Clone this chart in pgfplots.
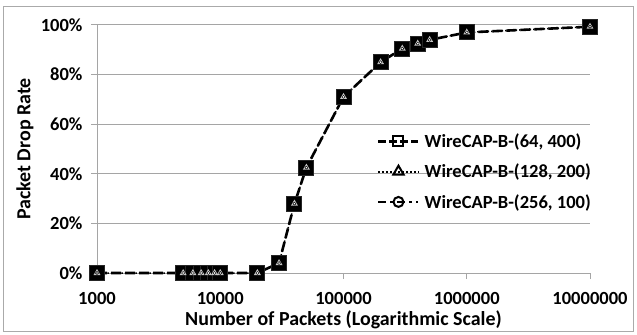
\documentclass[border=0pt]{standalone}
\usepackage{pgfplots}
\usepackage{pgfplotstable}
\pgfplotsset{compat=1.18}
\usepackage{fontspec}
\setmainfont{Carlito}
\definecolor{gridgray}{RGB}{165,165,165}
\definecolor{framegray}{RGB}{170,170,170}

\pgfplotstableread{
x y
1000 0
5000 0
6000 0
7000 0
8000 0
9000 0
10000 0
20000 0
30000 4
40000 28
50000 42.5
100000 71
200000 85
300000 90.5
400000 92.5
500000 94
1000000 97
10000000 99.3
}\datatable

\begin{document}
\begin{tikzpicture}
\begin{axis}[
  scale only axis, width=493bp, height=248bp,
  xmode=log, log basis x=10,
  xmin=1000, xmax=10000000, ymin=0, ymax=100,
  xtick={1000,10000,100000,1000000,10000000},
  xticklabels={1000,10000,100000,1000000,10000000},
  ytick={0,20,40,60,80,100},
  yticklabels={0\%,20\%,40\%,60\%,80\%,100\%},
  xminorticks=false, yminorticks=false,
  axis x line*=bottom, axis y line*=left,
  axis line style={gridgray, line width=1bp, -},
  ymajorgrids, major grid style={gridgray, line width=1bp},
  tick style={gridgray, line width=1bp},
  tick align=outside, major tick length=6bp,
  font=\fontsize{18.6}{22}\selectfont\bfseries,
  xticklabel style={yshift=-10bp},
  yticklabel style={xshift=-5bp},
  xlabel={Number of Packets (Logarithmic Scale)},
  ylabel={Packet Drop Rate},
  xlabel style={at={(axis description cs:0.5,-0.19)}, anchor=center, font=\fontsize{20}{24}\selectfont\bfseries},
  ylabel style={at={(axis description cs:-0.146,0.5)}, anchor=center, font=\fontsize{20}{24}\selectfont\bfseries},
  clip=false,
  legend style={at={(rel axis cs:0.568,0.57)}, anchor=north west, draw=none, fill=none,
    font=\fontsize{18.6}{22}\selectfont\bfseries, row sep=11bp, inner sep=0pt,
    nodes={inner xsep=5bp}},
  legend cell align=left,
  legend image code/.code={\draw[mark repeat=2,mark phase=2,#1] plot coordinates {(0bp,0bp) (20bp,0bp) (40bp,0bp)};},
]
\addplot[black, line width=2.6bp, dash pattern=on 10bp off 4bp, mark=square*, mark size=7.5bp,
  mark options={solid, fill=black, draw=black!85, line width=1bp}, forget plot] table[x=x,y=y]{\datatable};
\addplot[black, line width=1.5bp, dotted, mark=triangle, mark size=3bp,
  mark options={solid, draw=gray!45, line width=1bp}, forget plot] table[x=x,y=y]{\datatable};
\addplot[draw=none, mark=*, mark size=1.5bp,
  mark options={solid, fill=white, draw=none}, forget plot] table[x=x,y=y]{\datatable};

\addlegendimage{black, line width=2.5bp, dash pattern=on 8bp off 3bp, mark=square, mark size=5bp, mark options={solid, fill=white, line width=2bp}}
\addlegendentry{WireCAP-B-(64, 400)}
\addlegendimage{black, line width=2bp, dotted, mark=triangle, mark size=6bp, mark options={solid, fill=white, line width=2bp}}
\addlegendentry{WireCAP-B-(128, 200)}
\addlegendimage{black, line width=2.5bp, dash pattern=on 8bp off 4bp on 3bp off 4bp, mark=o, mark size=5bp, mark options={solid, fill=white, line width=2bp}}
\addlegendentry{WireCAP-B-(256, 100)}
\end{axis}
\pgfresetboundingbox
\draw[framegray, line width=1bp] ([shift={(-93bp,-58bp)}]current axis.south west) rectangle ([shift={(43bp,18bp)}]current axis.north east);
\path ([shift={(-97bp,-62bp)}]current axis.south west) rectangle ([shift={(47bp,25bp)}]current axis.north east);
\end{tikzpicture}
\end{document}
